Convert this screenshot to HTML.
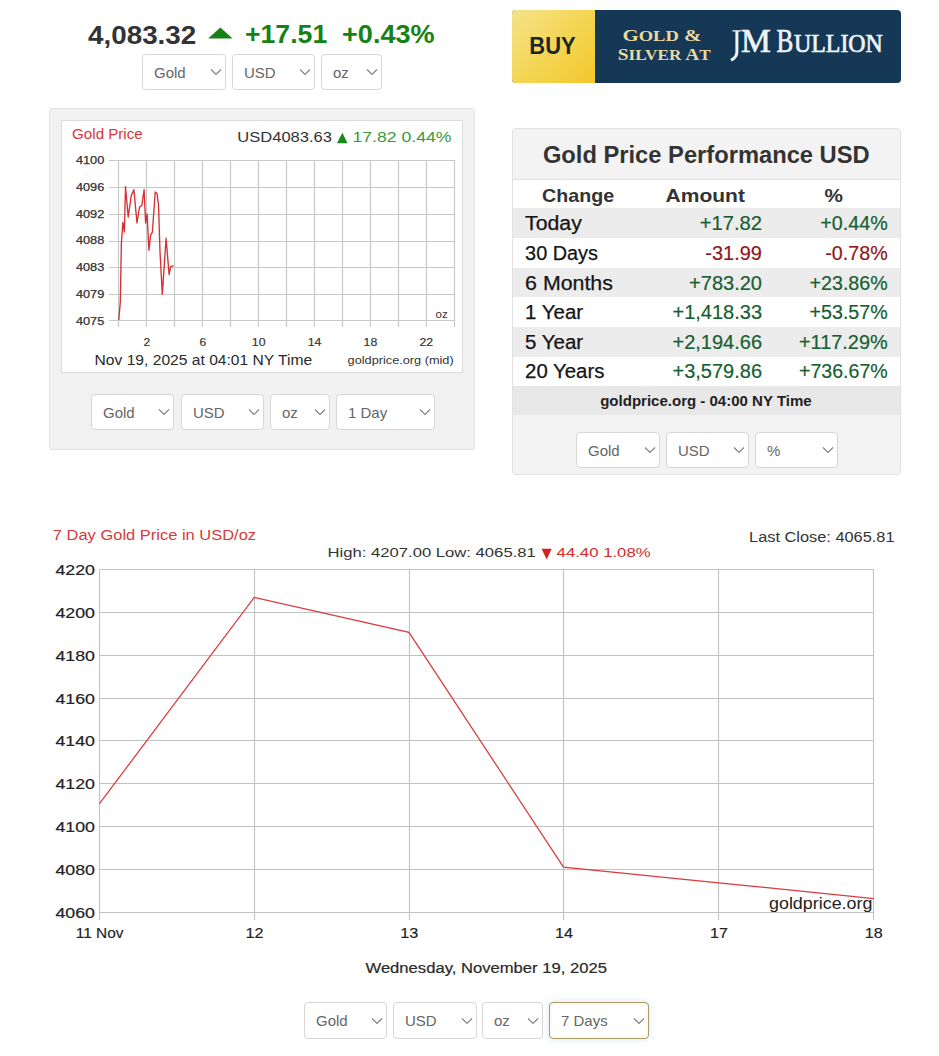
<!DOCTYPE html>
<html><head><meta charset="utf-8">
<style>
*{box-sizing:border-box;margin:0;padding:0}
html,body{width:939px;height:1056px;background:#fff;overflow:hidden;font-family:"Liberation Sans",sans-serif;position:relative}
.a{position:absolute;white-space:nowrap}
.sel{position:absolute;background:#fff;border:1px solid #d6d6d6;border-radius:4px;color:#666;font-size:15px;line-height:18px}
.sel span{position:absolute;left:11px}
.sel svg{position:absolute;right:3px}
svg text{font-family:"Liberation Sans",sans-serif}
</style></head><body>
<div class="sel" style="left:142px;top:54px;width:84px;height:36px;"><span style="top:8.7px">Gold</span><svg style="top:13.2px" width="12" height="8"><path d="M1 1.5L6 6.5L11 1.5" stroke="#808080" fill="none" stroke-width="1.1"/></svg></div>
<div class="sel" style="left:232px;top:54px;width:83px;height:36px;"><span style="top:8.7px">USD</span><svg style="top:13.2px" width="12" height="8"><path d="M1 1.5L6 6.5L11 1.5" stroke="#808080" fill="none" stroke-width="1.1"/></svg></div>
<div class="sel" style="left:321px;top:54px;width:61px;height:36px;"><span style="top:8.7px">oz</span><svg style="top:13.2px" width="12" height="8"><path d="M1 1.5L6 6.5L11 1.5" stroke="#808080" fill="none" stroke-width="1.1"/></svg></div>
<div class="a" style="left:512px;top:10px;width:389px;height:73px;border-radius:4px;background:#153856;overflow:hidden">
  <div class="a" style="left:0;top:0;width:83px;height:73px;background:linear-gradient(135deg,#f6e38a 0%,#f4d655 50%,#f2c72c 100%)"></div>
</div><div class="a" style="left:49px;top:108px;width:426px;height:342px;background:#f1f1f1;border:1px solid #e3e3e3;border-radius:3px"></div><div class="a" style="left:61px;top:120px;width:402px;height:253px;background:#fff;border:1px solid #dcdcdc"></div><div class="sel" style="left:91px;top:394px;width:83px;height:36px;"><span style="top:8.7px">Gold</span><svg style="top:13.2px" width="12" height="8"><path d="M1 1.5L6 6.5L11 1.5" stroke="#808080" fill="none" stroke-width="1.1"/></svg></div>
<div class="sel" style="left:181px;top:394px;width:83px;height:36px;"><span style="top:8.7px">USD</span><svg style="top:13.2px" width="12" height="8"><path d="M1 1.5L6 6.5L11 1.5" stroke="#808080" fill="none" stroke-width="1.1"/></svg></div>
<div class="sel" style="left:270px;top:394px;width:60px;height:36px;"><span style="top:8.7px">oz</span><svg style="top:13.2px" width="12" height="8"><path d="M1 1.5L6 6.5L11 1.5" stroke="#808080" fill="none" stroke-width="1.1"/></svg></div>
<div class="sel" style="left:336px;top:394px;width:99px;height:36px;"><span style="top:8.7px">1 Day</span><svg style="top:13.2px" width="12" height="8"><path d="M1 1.5L6 6.5L11 1.5" stroke="#808080" fill="none" stroke-width="1.1"/></svg></div>
<div class="a" style="left:512px;top:128px;width:389px;height:347px;background:#f3f3f3;border:1px solid #e2e2e2;border-radius:4px"></div><div class="a" style="left:513px;top:179px;width:387px;height:1px;background:#e4e4e4"></div><div class="a" style="left:513px;top:180px;width:387px;height:28px;background:#fff"></div><div class="a" style="left:513px;top:208px;width:387px;height:30px;background:#ececec"></div><div class="a" style="left:513px;top:238px;width:387px;height:29.5px;background:#fff"></div><div class="a" style="left:513px;top:267.5px;width:387px;height:29.5px;background:#ececec"></div><div class="a" style="left:513px;top:297px;width:387px;height:30px;background:#fff"></div><div class="a" style="left:513px;top:327px;width:387px;height:30px;background:#ececec"></div><div class="a" style="left:513px;top:357px;width:387px;height:29px;background:#fff"></div><div class="a" style="left:513px;top:386px;width:387px;height:29px;background:#e8e8e8"></div><div class="sel" style="left:576px;top:432px;width:84px;height:36px;"><span style="top:8.7px">Gold</span><svg style="top:13.2px" width="12" height="8"><path d="M1 1.5L6 6.5L11 1.5" stroke="#808080" fill="none" stroke-width="1.1"/></svg></div>
<div class="sel" style="left:666px;top:432px;width:83px;height:36px;"><span style="top:8.7px">USD</span><svg style="top:13.2px" width="12" height="8"><path d="M1 1.5L6 6.5L11 1.5" stroke="#808080" fill="none" stroke-width="1.1"/></svg></div>
<div class="sel" style="left:755px;top:432px;width:83px;height:36px;"><span style="top:8.7px">%</span><svg style="top:13.2px" width="12" height="8"><path d="M1 1.5L6 6.5L11 1.5" stroke="#808080" fill="none" stroke-width="1.1"/></svg></div>
<div class="sel" style="left:304px;top:1002px;width:83px;height:37px;"><span style="top:9.2px">Gold</span><svg style="top:13.7px" width="12" height="8"><path d="M1 1.5L6 6.5L11 1.5" stroke="#808080" fill="none" stroke-width="1.1"/></svg></div>
<div class="sel" style="left:393px;top:1002px;width:84px;height:37px;"><span style="top:9.2px">USD</span><svg style="top:13.7px" width="12" height="8"><path d="M1 1.5L6 6.5L11 1.5" stroke="#808080" fill="none" stroke-width="1.1"/></svg></div>
<div class="sel" style="left:482px;top:1002px;width:61px;height:37px;"><span style="top:9.2px">oz</span><svg style="top:13.7px" width="12" height="8"><path d="M1 1.5L6 6.5L11 1.5" stroke="#808080" fill="none" stroke-width="1.1"/></svg></div>
<div class="sel" style="left:549px;top:1002px;width:100px;height:37px;border-color:#a89d68;box-shadow:0 0 6px 1px rgba(140,180,225,.28), inset 0 0 4px rgba(240,225,160,.45)"><span style="top:9.2px">7 Days</span><svg style="top:13.7px" width="12" height="8"><path d="M1 1.5L6 6.5L11 1.5" stroke="#808080" fill="none" stroke-width="1.1"/></svg></div>

<svg class="a" style="left:0;top:0" width="939" height="1056">
<polygon points="208.1,38.4 220.35,27.5 232.6,38.4" fill="#168216"/>
<path d="M732.5 30.9 H741" stroke="#eef3f5" stroke-width="1.3" fill="none"/><path d="M736.9 31 V51.5 Q736.9 57.5 731 60.2" stroke="#eef3f5" stroke-width="3" fill="none"/>
<g stroke="#c8c8c8" stroke-width="1.2" fill="none"><line x1="109" y1="160.5" x2="455" y2="160.5"/><line x1="109" y1="187.5" x2="455" y2="187.5"/><line x1="109" y1="214.5" x2="455" y2="214.5"/><line x1="109" y1="241.5" x2="455" y2="241.5"/><line x1="109" y1="267.5" x2="455" y2="267.5"/><line x1="109" y1="294.5" x2="455" y2="294.5"/><line x1="109" y1="320.5" x2="455" y2="320.5"/><line x1="118.5" y1="160" x2="118.5" y2="327"/><line x1="146.5" y1="160" x2="146.5" y2="327"/><line x1="174.5" y1="160" x2="174.5" y2="327"/><line x1="202.5" y1="160" x2="202.5" y2="327"/><line x1="230.5" y1="160" x2="230.5" y2="327"/><line x1="258.5" y1="160" x2="258.5" y2="327"/><line x1="286.5" y1="160" x2="286.5" y2="327"/><line x1="314.5" y1="160" x2="314.5" y2="327"/><line x1="342.5" y1="160" x2="342.5" y2="327"/><line x1="370.5" y1="160" x2="370.5" y2="327"/><line x1="398.5" y1="160" x2="398.5" y2="327"/><line x1="426.5" y1="160" x2="426.5" y2="327"/><line x1="454.5" y1="160" x2="454.5" y2="327"/></g>
<path d="M118.8 320.0 L120.3 301.8 L121.4 242.7 L122.9 222.3 L124.4 232.1 L125.5 186.7 L128.2 217.0 L131.2 195.8 L133.9 189.7 L137.0 223.0 L139.5 207.0 L141.8 205.6 L144.1 189.7 L145.6 223.0 L147.1 214.0 L148.9 250.3 L150.6 235.2 L152.4 232.1 L155.2 192.0 L157.0 193.5 L158.5 204.8 L160.0 251.8 L162.3 294.2 L166.1 238.2 L169.1 274.5 L170.6 266.9 L173.6 265.5" stroke="#d63034" stroke-width="1.35" fill="none" stroke-linejoin="round"/>
<polygon points="337,143.3 342.3,132.8 347.6,143.3" fill="#178a17"/>
<g stroke="#c2c2c2" stroke-width="1.1" fill="none"><line x1="99.5" y1="569.5" x2="873.5" y2="569.5"/><line x1="99.5" y1="612.5" x2="873.5" y2="612.5"/><line x1="99.5" y1="655.5" x2="873.5" y2="655.5"/><line x1="99.5" y1="698.5" x2="873.5" y2="698.5"/><line x1="99.5" y1="740.5" x2="873.5" y2="740.5"/><line x1="99.5" y1="783.5" x2="873.5" y2="783.5"/><line x1="99.5" y1="826.5" x2="873.5" y2="826.5"/><line x1="99.5" y1="869.5" x2="873.5" y2="869.5"/><line x1="99.5" y1="912.5" x2="873.5" y2="912.5"/><line x1="99.5" y1="569.5" x2="99.5" y2="920"/><line x1="254.5" y1="569.5" x2="254.5" y2="920"/><line x1="409.5" y1="569.5" x2="409.5" y2="920"/><line x1="563.5" y1="569.5" x2="563.5" y2="920"/><line x1="718.5" y1="569.5" x2="718.5" y2="920"/><line x1="873.5" y1="569.5" x2="873.5" y2="920"/></g>
<path d="M99.5 803.7 L254.2 597.4 L409.0 632.3 L563.5 867.2 L718.6 882.8 L873.8 898.6" stroke="#db3a3c" stroke-width="1.25" fill="none"/>
<polygon points="541.6,548.8 551.7,548.8 546.65,559.6" fill="#d52020"/>
<text x="88.1" y="43.5" font-size="26" fill="#333" text-anchor="start" font-weight="bold" textLength="108.1" lengthAdjust="spacingAndGlyphs">4,083.32</text>
<text x="245.0" y="43.2" font-size="26" fill="#168216" text-anchor="start" font-weight="bold" textLength="82.2" lengthAdjust="spacingAndGlyphs">+17.51</text>
<text x="342.1" y="43.2" font-size="26" fill="#168216" text-anchor="start" font-weight="bold" textLength="92.4" lengthAdjust="spacingAndGlyphs">+0.43%</text>
<text x="529.3" y="53.8" font-size="24.5" fill="#1b2626" text-anchor="start" font-weight="bold" textLength="46.3" lengthAdjust="spacingAndGlyphs">BUY</text>
<text x="622.4" y="41.2" font-size="17.5" fill="#ead9a0" text-anchor="start" font-weight="bold" style="font-family:'Liberation Serif',serif" textLength="79.0" lengthAdjust="spacingAndGlyphs">G<tspan font-size="15.5">OLD</tspan> &amp;</text>
<text x="617.8" y="60.0" font-size="17.5" fill="#ead9a0" text-anchor="start" font-weight="bold" style="font-family:'Liberation Serif',serif" textLength="92.8" lengthAdjust="spacingAndGlyphs">S<tspan font-size="15.5">ILVER</tspan> A<tspan font-size="15.5">T</tspan></text>
<text x="741.1" y="52.2" font-size="33" fill="#eef3f5" text-anchor="start" style="font-family:'Liberation Serif',serif" textLength="29.8" lengthAdjust="spacingAndGlyphs" stroke="#eef3f5" stroke-width="0.7">M</text>
<text x="776.5" y="52.2" font-size="33" fill="#eef3f5" text-anchor="start" style="font-family:'Liberation Serif',serif" textLength="16.8" lengthAdjust="spacingAndGlyphs" stroke="#eef3f5" stroke-width="0.7">B</text>
<text x="794.1" y="52.2" font-size="24.5" fill="#eef3f5" text-anchor="start" style="font-family:'Liberation Serif',serif" textLength="88.7" lengthAdjust="spacingAndGlyphs" stroke="#eef3f5" stroke-width="0.7">ULLION</text>
<text x="104.3" y="164.1" font-size="10.5" fill="#333" text-anchor="end" textLength="28.4" lengthAdjust="spacingAndGlyphs" stroke="#333" stroke-width="0.25">4100</text>
<text x="104.3" y="190.8" font-size="10.5" fill="#333" text-anchor="end" textLength="28.4" lengthAdjust="spacingAndGlyphs" stroke="#333" stroke-width="0.25">4096</text>
<text x="104.3" y="217.6" font-size="10.5" fill="#333" text-anchor="end" textLength="28.4" lengthAdjust="spacingAndGlyphs" stroke="#333" stroke-width="0.25">4092</text>
<text x="104.3" y="244.3" font-size="10.5" fill="#333" text-anchor="end" textLength="28.4" lengthAdjust="spacingAndGlyphs" stroke="#333" stroke-width="0.25">4088</text>
<text x="104.3" y="271.1" font-size="10.5" fill="#333" text-anchor="end" textLength="28.4" lengthAdjust="spacingAndGlyphs" stroke="#333" stroke-width="0.25">4083</text>
<text x="104.3" y="297.9" font-size="10.5" fill="#333" text-anchor="end" textLength="28.4" lengthAdjust="spacingAndGlyphs" stroke="#333" stroke-width="0.25">4079</text>
<text x="104.3" y="324.6" font-size="10.5" fill="#333" text-anchor="end" textLength="28.4" lengthAdjust="spacingAndGlyphs" stroke="#333" stroke-width="0.25">4075</text>
<text x="146.9" y="346.2" font-size="10.5" fill="#333" text-anchor="middle" textLength="6.7" lengthAdjust="spacingAndGlyphs" stroke="#333" stroke-width="0.15">2</text>
<text x="202.8" y="346.2" font-size="10.5" fill="#333" text-anchor="middle" textLength="6.7" lengthAdjust="spacingAndGlyphs" stroke="#333" stroke-width="0.15">6</text>
<text x="258.7" y="346.2" font-size="10.5" fill="#333" text-anchor="middle" textLength="13.7" lengthAdjust="spacingAndGlyphs" stroke="#333" stroke-width="0.15">10</text>
<text x="314.5" y="346.2" font-size="10.5" fill="#333" text-anchor="middle" textLength="13.7" lengthAdjust="spacingAndGlyphs" stroke="#333" stroke-width="0.15">14</text>
<text x="370.4" y="346.2" font-size="10.5" fill="#333" text-anchor="middle" textLength="13.7" lengthAdjust="spacingAndGlyphs" stroke="#333" stroke-width="0.15">18</text>
<text x="426.3" y="346.2" font-size="10.5" fill="#333" text-anchor="middle" textLength="13.7" lengthAdjust="spacingAndGlyphs" stroke="#333" stroke-width="0.15">22</text>
<text x="72.1" y="138.6" font-size="14" fill="#d9363e" text-anchor="start" textLength="70.6" lengthAdjust="spacingAndGlyphs">Gold Price</text>
<text x="237.3" y="142.0" font-size="14" fill="#333" text-anchor="start" textLength="94.7" lengthAdjust="spacingAndGlyphs">USD4083.63</text>
<text x="352.5" y="142.0" font-size="14" fill="#3a9a3a" text-anchor="start" textLength="99.0" lengthAdjust="spacingAndGlyphs">17.82 0.44%</text>
<text x="435.6" y="318.0" font-size="11" fill="#333" text-anchor="start" textLength="12.1" lengthAdjust="spacingAndGlyphs">oz</text>
<text x="94.6" y="365.0" font-size="14" fill="#2a2a2a" text-anchor="start" textLength="217.5" lengthAdjust="spacingAndGlyphs">Nov 19, 2025 at 04:01 NY Time</text>
<text x="347.6" y="363.6" font-size="11" fill="#333" text-anchor="start" textLength="106.1" lengthAdjust="spacingAndGlyphs">goldprice.org (mid)</text>
<text x="542.9" y="162.6" font-size="23" fill="#333" text-anchor="start" font-weight="bold" textLength="326.8" lengthAdjust="spacingAndGlyphs">Gold Price Performance USD</text>
<text x="542.1" y="202.2" font-size="19" fill="#333" text-anchor="start" font-weight="bold" textLength="72.0" lengthAdjust="spacingAndGlyphs">Change</text>
<text x="665.6" y="202.2" font-size="19" fill="#333" text-anchor="start" font-weight="bold" textLength="79.3" lengthAdjust="spacingAndGlyphs">Amount</text>
<text x="824.5" y="202.2" font-size="19" fill="#333" text-anchor="start" font-weight="bold" textLength="18.4" lengthAdjust="spacingAndGlyphs">%</text>
<text x="525.1" y="230.4" font-size="19.5" fill="#151515" text-anchor="start" textLength="56.7" lengthAdjust="spacingAndGlyphs" stroke="#151515" stroke-width="0.25">Today</text>
<text x="699.7" y="230.4" font-size="19.5" fill="#175f30" text-anchor="start" textLength="62.3" lengthAdjust="spacingAndGlyphs" stroke="#175f30" stroke-width="0.2">+17.82</text>
<text x="820.3" y="230.4" font-size="19.5" fill="#175f30" text-anchor="start" textLength="67.4" lengthAdjust="spacingAndGlyphs" stroke="#175f30" stroke-width="0.2">+0.44%</text>
<text x="525.1" y="260.2" font-size="19.5" fill="#151515" text-anchor="start" textLength="72.9" lengthAdjust="spacingAndGlyphs" stroke="#151515" stroke-width="0.25">30 Days</text>
<text x="705.3" y="260.2" font-size="19.5" fill="#901820" text-anchor="start" textLength="56.7" lengthAdjust="spacingAndGlyphs" stroke="#901820" stroke-width="0.2">-31.99</text>
<text x="825.3" y="260.2" font-size="19.5" fill="#901820" text-anchor="start" textLength="62.4" lengthAdjust="spacingAndGlyphs" stroke="#901820" stroke-width="0.2">-0.78%</text>
<text x="525.1" y="289.7" font-size="19.5" fill="#151515" text-anchor="start" textLength="87.8" lengthAdjust="spacingAndGlyphs" stroke="#151515" stroke-width="0.25">6 Months</text>
<text x="689.1" y="289.7" font-size="19.5" fill="#175f30" text-anchor="start" textLength="72.9" lengthAdjust="spacingAndGlyphs" stroke="#175f30" stroke-width="0.2">+783.20</text>
<text x="809.6" y="289.7" font-size="19.5" fill="#175f30" text-anchor="start" textLength="78.1" lengthAdjust="spacingAndGlyphs" stroke="#175f30" stroke-width="0.2">+23.86%</text>
<text x="525.1" y="319.1" font-size="19.5" fill="#151515" text-anchor="start" textLength="58.0" lengthAdjust="spacingAndGlyphs" stroke="#151515" stroke-width="0.25">1 Year</text>
<text x="672.5" y="319.1" font-size="19.5" fill="#175f30" text-anchor="start" textLength="89.5" lengthAdjust="spacingAndGlyphs" stroke="#175f30" stroke-width="0.2">+1,418.33</text>
<text x="809.6" y="319.1" font-size="19.5" fill="#175f30" text-anchor="start" textLength="78.1" lengthAdjust="spacingAndGlyphs" stroke="#175f30" stroke-width="0.2">+53.57%</text>
<text x="525.1" y="348.5" font-size="19.5" fill="#151515" text-anchor="start" textLength="58.0" lengthAdjust="spacingAndGlyphs" stroke="#151515" stroke-width="0.25">5 Year</text>
<text x="672.5" y="348.5" font-size="19.5" fill="#175f30" text-anchor="start" textLength="89.5" lengthAdjust="spacingAndGlyphs" stroke="#175f30" stroke-width="0.2">+2,194.66</text>
<text x="799.0" y="348.5" font-size="19.5" fill="#175f30" text-anchor="start" textLength="88.7" lengthAdjust="spacingAndGlyphs" stroke="#175f30" stroke-width="0.2">+117.29%</text>
<text x="525.1" y="378.3" font-size="19.5" fill="#151515" text-anchor="start" textLength="79.3" lengthAdjust="spacingAndGlyphs" stroke="#151515" stroke-width="0.25">20 Years</text>
<text x="672.5" y="378.3" font-size="19.5" fill="#175f30" text-anchor="start" textLength="89.5" lengthAdjust="spacingAndGlyphs" stroke="#175f30" stroke-width="0.2">+3,579.86</text>
<text x="799.0" y="378.3" font-size="19.5" fill="#175f30" text-anchor="start" textLength="88.7" lengthAdjust="spacingAndGlyphs" stroke="#175f30" stroke-width="0.2">+736.67%</text>
<text x="600.2" y="405.6" font-size="14.5" fill="#222" text-anchor="start" font-weight="bold" textLength="211.5" lengthAdjust="spacingAndGlyphs">goldprice.org - 04:00 NY Time</text>
<text x="94.9" y="574.9" font-size="15.5" fill="#222" text-anchor="end" textLength="39.5" lengthAdjust="spacingAndGlyphs" stroke="#222" stroke-width="0.2">4220</text>
<text x="94.9" y="617.8" font-size="15.5" fill="#222" text-anchor="end" textLength="39.5" lengthAdjust="spacingAndGlyphs" stroke="#222" stroke-width="0.2">4200</text>
<text x="94.9" y="660.6" font-size="15.5" fill="#222" text-anchor="end" textLength="39.5" lengthAdjust="spacingAndGlyphs" stroke="#222" stroke-width="0.2">4180</text>
<text x="94.9" y="703.5" font-size="15.5" fill="#222" text-anchor="end" textLength="39.5" lengthAdjust="spacingAndGlyphs" stroke="#222" stroke-width="0.2">4160</text>
<text x="94.9" y="746.4" font-size="15.5" fill="#222" text-anchor="end" textLength="39.5" lengthAdjust="spacingAndGlyphs" stroke="#222" stroke-width="0.2">4140</text>
<text x="94.9" y="789.3" font-size="15.5" fill="#222" text-anchor="end" textLength="39.5" lengthAdjust="spacingAndGlyphs" stroke="#222" stroke-width="0.2">4120</text>
<text x="94.9" y="832.1" font-size="15.5" fill="#222" text-anchor="end" textLength="39.5" lengthAdjust="spacingAndGlyphs" stroke="#222" stroke-width="0.2">4100</text>
<text x="94.9" y="875.0" font-size="15.5" fill="#222" text-anchor="end" textLength="39.5" lengthAdjust="spacingAndGlyphs" stroke="#222" stroke-width="0.2">4080</text>
<text x="94.9" y="917.9" font-size="15.5" fill="#222" text-anchor="end" textLength="39.5" lengthAdjust="spacingAndGlyphs" stroke="#222" stroke-width="0.2">4060</text>
<text x="75.8" y="937.8" font-size="14" fill="#222" text-anchor="start" textLength="47.7" lengthAdjust="spacingAndGlyphs" stroke="#222" stroke-width="0.15">11 Nov</text>
<text x="254.4" y="937.8" font-size="14" fill="#222" text-anchor="middle" textLength="18.0" lengthAdjust="spacingAndGlyphs" stroke="#222" stroke-width="0.15">12</text>
<text x="409.2" y="937.8" font-size="14" fill="#222" text-anchor="middle" textLength="18.0" lengthAdjust="spacingAndGlyphs" stroke="#222" stroke-width="0.15">13</text>
<text x="564.1" y="937.8" font-size="14" fill="#222" text-anchor="middle" textLength="18.0" lengthAdjust="spacingAndGlyphs" stroke="#222" stroke-width="0.15">14</text>
<text x="718.9" y="937.8" font-size="14" fill="#222" text-anchor="middle" textLength="18.0" lengthAdjust="spacingAndGlyphs" stroke="#222" stroke-width="0.15">17</text>
<text x="873.8" y="937.8" font-size="14" fill="#222" text-anchor="middle" textLength="18.0" lengthAdjust="spacingAndGlyphs" stroke="#222" stroke-width="0.15">18</text>
<text x="52.8" y="539.7" font-size="14" fill="#d63a3a" text-anchor="start" textLength="203.3" lengthAdjust="spacingAndGlyphs">7 Day Gold Price in USD/oz</text>
<text x="749.1" y="542.4" font-size="14" fill="#333" text-anchor="start" textLength="145.4" lengthAdjust="spacingAndGlyphs">Last Close: 4065.81</text>
<text x="327.5" y="557.4" font-size="13.5" fill="#333" text-anchor="start" textLength="208.3" lengthAdjust="spacingAndGlyphs">High: 4207.00 Low: 4065.81</text>
<text x="556.6" y="557.4" font-size="13.5" fill="#d52a2a" text-anchor="start" textLength="94.0" lengthAdjust="spacingAndGlyphs">44.40 1.08%</text>
<text x="769.0" y="908.6" font-size="17" fill="#222" text-anchor="start" textLength="103.4" lengthAdjust="spacingAndGlyphs">goldprice.org</text>
<text x="365.5" y="972.5" font-size="14" fill="#2a2a2a" text-anchor="start" textLength="241.4" lengthAdjust="spacingAndGlyphs" stroke="#2a2a2a" stroke-width="0.2">Wednesday, November 19, 2025</text>
</svg>
</body></html>
